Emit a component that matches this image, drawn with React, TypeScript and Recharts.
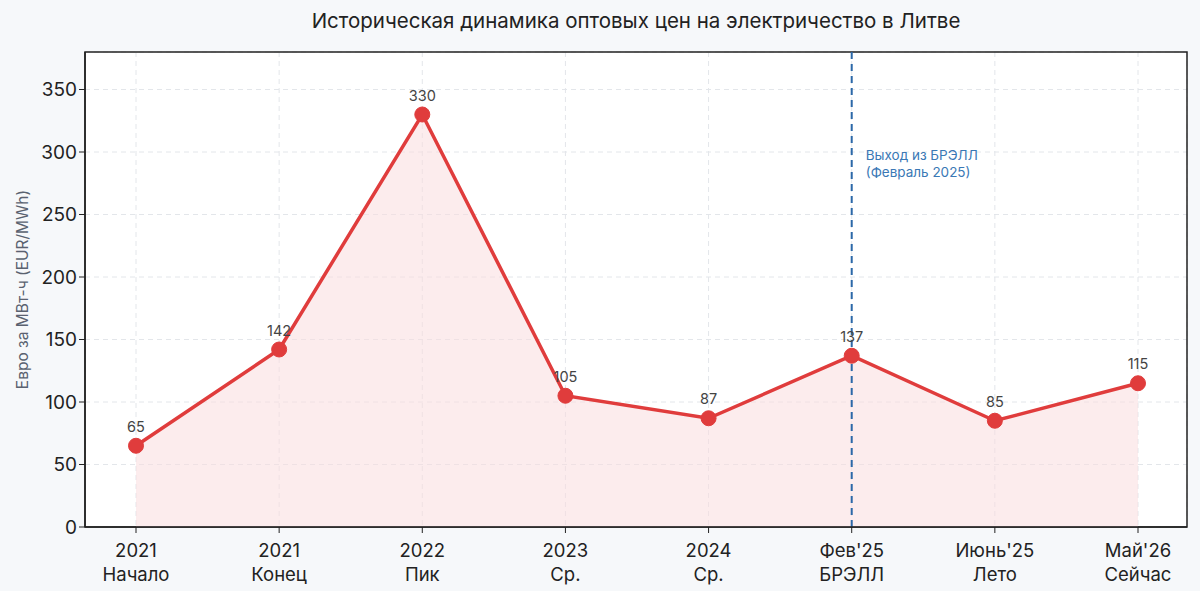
import { ComposedChart, Area, XAxis, YAxis, CartesianGrid, ReferenceLine, LabelList, usePlotArea } from 'recharts';

const periods = ['2021|Начало', '2021|Конец', '2022|Пик', '2023|Ср.', '2024|Ср.', "Фев'25|БРЭЛЛ", "Июнь'25|Лето", "Май'26|Сейчас"];
const prices = [65, 142, 330, 105, 87, 137, 85, 115];
const yTicks = [0, 50, 100, 150, 200, 250, 300, 350];
const exitPeriod = "Фев'25|БРЭЛЛ";
const exitNote = ['Выход из БРЭЛЛ', '(Февраль 2025)'];
const yTitle = 'Евро за МВт-ч (EUR/MWh)';

const data = periods.map((p, i) => ({ period: p, price: prices[i] }));

const FONT = 'Inter, "Noto Sans", sans-serif';

// рамка вокруг области построения + подпись оси Y
function Frame() {
  const area = usePlotArea();
  if (!area) return null;
  const cy = area.y + area.height / 2;
  return (
    <g>
      <rect x={area.x} y={area.y} width={area.width} height={area.height} fill="none" stroke="#222" strokeWidth={1.5} />
      <text x={22} y={cy} transform={`rotate(-90 22 ${cy})`} textAnchor="middle" dominantBaseline="central" fill="#5a6270" fontSize={15.5} fontFamily={FONT}>
        {yTitle}
      </text>
    </g>
  );
}

function PeriodTick(props: any) {
  const { x, y, payload } = props;
  const [top, bottom] = String(payload.value).split('|');
  return (
    <g>
      <text x={x} y={y + 22} textAnchor="middle" fill="#222" fontSize={18.5} fontFamily={FONT}>{top}</text>
      <text x={x} y={y + 46} textAnchor="middle" fill="#222" fontSize={18.5} fontFamily={FONT}>{bottom}</text>
    </g>
  );
}

function ExitLabel(props: any) {
  const { viewBox } = props;
  const x = viewBox.x + 14;
  return (
    <g>
      {exitNote.map((t, i) => (
        <text key={t} x={x} y={160 + i * 17} fill="#3a78b5" fontSize={13.5} fontFamily={FONT}>{t}</text>
      ))}
    </g>
  );
}

export default function App() {
  return (
    <div style={{ position: 'fixed', left: 0, top: 0, width: 1200, height: 591, background: '#f6f8fa', fontFamily: FONT }}>
      <div style={{ position: 'absolute', left: 85, width: 1102, top: 8, textAlign: 'center', fontSize: 20.5, color: '#222' }}>
        Историческая динамика оптовых цен на электричество в Литве
      </div>
      <ComposedChart width={1200} height={591} data={data} margin={{ top: 52, right: 13, bottom: 0, left: 25 }}>
        <CartesianGrid strokeDasharray="5 4" stroke="#e3e6ea" fill="#ffffff" />
        <XAxis
          dataKey="period"
          height={64}
          padding={{ left: 51, right: 49 }}
          tick={<PeriodTick />}
          tickLine={{ stroke: '#222' }}
          tickSize={6}
          axisLine={{ stroke: '#222', strokeWidth: 1.5 }}
          interval={0}
        />
        <YAxis
          width={60}
          domain={[0, 380]}
          ticks={yTicks}
          tick={{ fill: '#222', fontSize: 19, fontFamily: FONT }}
          tickLine={{ stroke: '#222' }}
          tickSize={6}
          axisLine={{ stroke: '#222', strokeWidth: 1.5 }}
        />
        <Area
          type="linear"
          dataKey="price"
          stroke="#e03c3c"
          strokeWidth={3.5}
          fill="#f9dcdf"
          fillOpacity={0.55}
          dot={{ r: 7.5, fill: '#e03c3c', fillOpacity: 1, stroke: '#e03c3c', strokeWidth: 1 }}
          activeDot={false}
          isAnimationActive={false}
        >
          <LabelList dataKey="price" position="top" offset={14} fill="#444" fontSize={14.5} fontFamily={FONT} />
        </Area>
        <ReferenceLine x={exitPeriod} stroke="#2c68a8" strokeWidth={2} strokeDasharray="7 5" label={<ExitLabel />} />
        <Frame />
      </ComposedChart>
    </div>
  );
}
